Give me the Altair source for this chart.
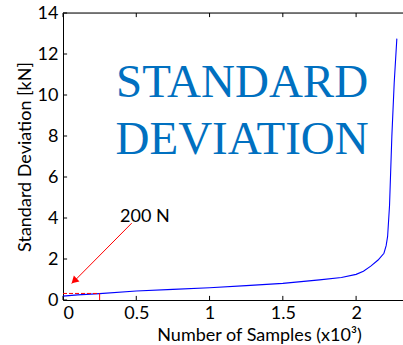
import altair as alt
import pandas as pd

# Curve values (x in thousands of samples, y in kN)
samples_k = [0.0, 0.1, 0.25, 0.5, 0.75, 1.0, 1.25, 1.5, 1.75, 1.9, 2.0, 2.05, 2.1, 2.15,
             2.19, 2.205, 2.215, 2.228, 2.244, 2.26, 2.278]
std_kn = [0.19, 0.25, 0.31, 0.44, 0.52, 0.60, 0.70, 0.81, 0.98, 1.10, 1.25, 1.40, 1.65, 1.95,
          2.28, 2.65, 3.10, 4.60, 8.00, 10.60, 12.75]

x_ticks = [0, 0.5, 1, 1.5, 2]
y_ticks = [0, 2, 4, 6, 8, 10, 12, 14]
x_max = 2.32
y_max = 14

# 200 N annotation
thresh_y = 0.32
thresh_x = 0.25
arrow_from = (0.469, 3.75)
arrow_to = (0.06, 0.80)
arrow_head = (0.076, 0.93)
label_200 = "200 N"
label_pos = (0.389, 3.8)

title_lines = ["STANDARD", "DEVIATION"]
title_x = 1.222
title_y = [9.9, 7.12]

curve = pd.DataFrame({"x": samples_k, "y": std_kn})

xs = alt.Scale(domain=[0, x_max], nice=False, zero=False)
ys = alt.Scale(domain=[0, y_max], nice=False, zero=False)

axis_common = dict(labelFont="Lato", labelFontSize=18, labelColor="black",
                   titleFont="Lato", titleFontSize=18, titleFontWeight="normal", titleColor="black",
                   domainColor="black", domainWidth=1, tickSize=0, grid=False,
                   labelExpr="datum.value")

line = alt.Chart(curve).mark_line(color="#0000FF", strokeWidth=1.1).encode(
    x=alt.X("x:Q", scale=xs,
            axis=alt.Axis(values=x_ticks, title="Number of Samples (x10³)", labelPadding=4,
                          titleX=196, titleY=40, titleBaseline="alphabetic", **axis_common)),
    y=alt.Y("y:Q", scale=ys,
            axis=alt.Axis(values=y_ticks, title="Standard Deviation [kN]", labelPadding=5,
                          titleX=-33, titleY=143.5, titleBaseline="alphabetic", **axis_common)),
)

# inward tick marks
xt = pd.DataFrame({"x": x_ticks})
yt = pd.DataFrame({"y": y_ticks})
bottom_ticks = alt.Chart(xt).mark_rule(color="black", strokeWidth=1).encode(
    x=alt.X("x:Q", scale=xs), y=alt.datum(0), y2=alt.datum(0.2))
top_ticks = alt.Chart(xt).mark_rule(color="black", strokeWidth=1).encode(
    x=alt.X("x:Q", scale=xs), y=alt.datum(y_max), y2=alt.datum(y_max - 0.2))
left_ticks = alt.Chart(yt).mark_rule(color="black", strokeWidth=1).encode(
    y=alt.Y("y:Q", scale=ys), x=alt.datum(0), x2=alt.datum(0.028))
top_border = alt.Chart(pd.DataFrame({"a": [0]})).mark_rule(color="black", strokeWidth=1).encode(
    x=alt.datum(0), x2=alt.datum(x_max), y=alt.datum(y_max))

# red threshold lines
dashed = alt.Chart(pd.DataFrame({"a": [0]})).mark_rule(color="#FF0000", strokeWidth=1,
                                                       strokeDash=[4, 2]).encode(
    x=alt.datum(0), x2=alt.datum(thresh_x), y=alt.datum(thresh_y))
vert = alt.Chart(pd.DataFrame({"a": [0]})).mark_rule(color="#FF0000", strokeWidth=1).encode(
    x=alt.datum(thresh_x), y=alt.datum(0), y2=alt.datum(thresh_y))
arrow = alt.Chart(pd.DataFrame({"a": [0]})).mark_rule(color="#FF0000", strokeWidth=1).encode(
    x=alt.datum(arrow_from[0]), y=alt.datum(arrow_from[1]),
    x2=alt.datum(arrow_to[0]), y2=alt.datum(arrow_to[1]))
head = alt.Chart(pd.DataFrame({"a": [0]})).mark_point(
    shape="triangle-up", angle=226, size=65, filled=True, color="#FF0000", opacity=1).encode(
    x=alt.datum(arrow_head[0]), y=alt.datum(arrow_head[1]))
lbl = alt.Chart(pd.DataFrame({"a": [0]})).mark_text(
    text=label_200, font="Lato", fontSize=18, align="left", baseline="alphabetic", color="black").encode(
    x=alt.datum(label_pos[0]), y=alt.datum(label_pos[1]))

big = alt.Chart(pd.DataFrame({"t": title_lines, "x": [title_x] * 2, "y": title_y})).mark_text(
    font="Liberation Serif", fontSize=47, align="center", baseline="alphabetic", color="#0070C0").encode(
    x=alt.X("x:Q", scale=xs), y=alt.Y("y:Q", scale=ys), text="t:N")

chart = alt.layer(line, bottom_ticks, top_ticks, left_ticks, top_border,
                  dashed, vert, arrow, head, lbl, big).properties(
    width=340, height=287,
    autosize=alt.AutoSizeParams(type="none"),
    padding={"left": 63, "top": 13, "right": 0, "bottom": 45},
).configure_view(stroke=None).configure(background="white")

chart.save("out.html", embed_options={"renderer": "svg", "actions": False})
